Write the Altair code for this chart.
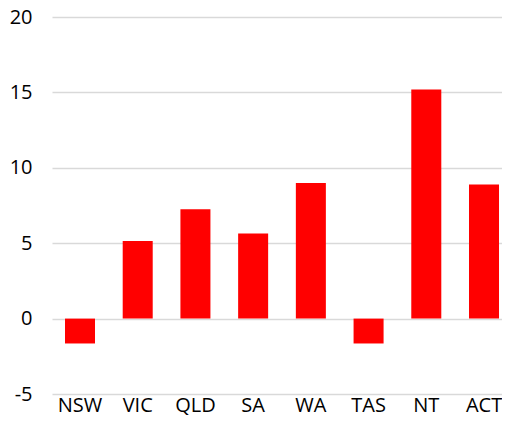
import altair as alt
import pandas as pd

states = ["NSW", "VIC", "QLD", "SA", "WA", "TAS", "NT", "ACT"]
values = [-1.65, 5.15, 7.25, 5.65, 9.0, -1.65, 15.2, 8.9]

df = pd.DataFrame({"state": states, "value": values})

FONT = "Open Sans"

chart = alt.Chart(df).mark_bar(color="#ff0000").encode(
    x=alt.X("state:N", sort=states, title=None,
            scale=alt.Scale(range=[0, 460], paddingInner=0.48, paddingOuter=0.225),
            axis=alt.Axis(labelAngle=0, domain=False, ticks=False, labelPadding=17,
                          labelBaseline="alphabetic", labelFontSize=20, labelFont=FONT,
                          labelColor="#000000")),
    y=alt.Y("value:Q", title=None,
            scale=alt.Scale(domain=[-5, 20], nice=False),
            axis=alt.Axis(values=[-5, 0, 5, 10, 15, 20], domain=False, ticks=False,
                          labelPadding=20, labelFontSize=20, labelFont=FONT,
                          labelExpr="'' + datum.value",
                          labelColor="#000000", gridColor="#d9d9d9", gridWidth=1.5)),
).properties(
    width=450, height=377,
    autosize=alt.AutoSizeParams(type="none"),
    padding={"left": 44, "top": 9, "right": 0, "bottom": 27},
).configure_view(stroke=None)

chart.save("out.html", embed_options={"renderer": "svg", "actions": False})
